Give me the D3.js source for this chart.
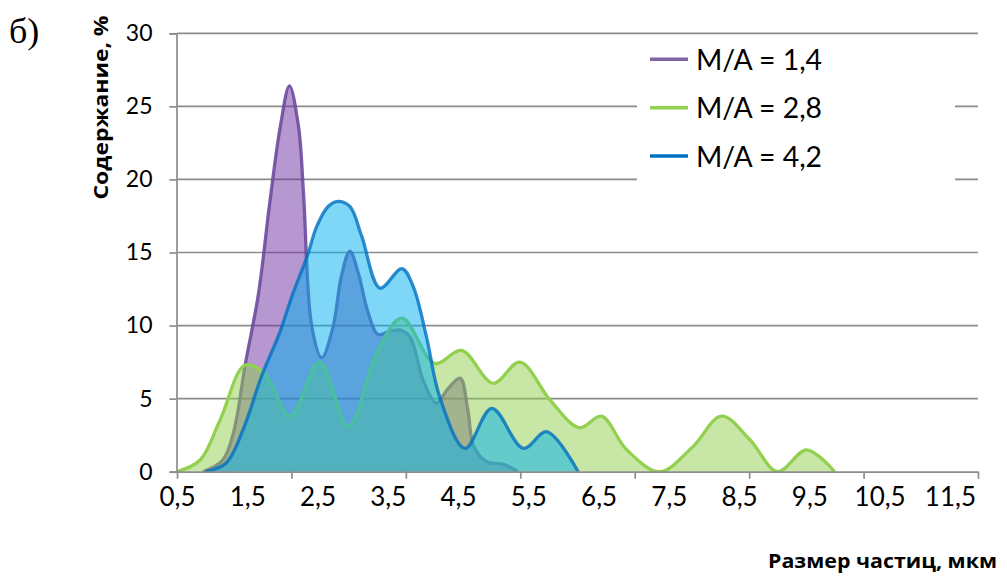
<!DOCTYPE html>
<html>
<head>
<meta charset="utf-8">
<script src="https://cdnjs.cloudflare.com/ajax/libs/d3/7.8.5/d3.min.js"></script>
<style>
  html, body { margin: 0; padding: 0; background: #fff; }
  svg { display: block; }
</style>
</head>
<body>
<svg id="chart" width="1007" height="578"></svg>
<script>
// Particle size distribution, three M/A ratios
const seriesNames = ["M/A = 1,4", "M/A = 2,8", "M/A = 4,2"];

// M/A = 1,4
const sizes14   = [0.87, 1.15, 1.30, 1.47, 1.66, 1.82, 1.97, 2.10, 2.23, 2.30, 2.42, 2.56, 2.72, 2.84, 2.96, 3.08, 3.22, 3.36, 3.52, 3.67, 3.82, 4.00, 4.19, 4.36, 4.53, 4.64, 4.72, 4.90, 5.15, 5.35];
const content14 = [0, 0.8, 2.6, 7.3, 12.2, 18.4, 23.6, 26.4, 23.6, 19.1, 9.9, 7.8, 9.9, 13.4, 15.1, 13.6, 10.9, 9.4, 9.6, 9.7, 9.2, 6.3, 4.7, 5.7, 6.4, 4.2, 1.8, 0.7, 0.5, 0];

// M/A = 2,8
const sizes28   = [0.5, 0.83, 1.11, 1.47, 1.75, 2.11, 2.53, 2.94, 3.34, 3.70, 4.17, 4.55, 5.00, 5.38, 5.81, 6.23, 6.54, 6.90, 7.37, 7.84, 8.25, 8.65, 9.05, 9.46, 9.86];
const content28 = [0, 0.8, 3.5, 7.3, 6.7, 3.8, 7.5, 3.1, 8.1, 10.5, 7.4, 8.3, 6.05, 7.5, 4.9, 3.0, 3.8, 1.5, 0, 1.7, 3.8, 2.2, 0, 1.5, 0];

// M/A = 4,2
const sizes42   = [0.9, 1.2, 1.45, 1.7, 1.96, 2.15, 2.35, 2.49, 2.65, 2.79, 2.96, 3.13, 3.39, 3.70, 3.86, 4.05, 4.24, 4.60, 4.98, 5.43, 5.76, 6.21];
const content42 = [0, 0.6, 3.0, 6.5, 9.5, 12.2, 14.7, 16.8, 18.15, 18.5, 18.15, 16.1, 12.56, 13.9, 12.7, 9.25, 5.1, 1.6, 4.34, 1.6, 2.74, 0];

const xLabelValues = [0.5, 1.5, 2.5, 3.5, 4.5, 5.5, 6.5, 7.5, 8.5, 9.5, 10.5, 11.5];
const yTickValues  = [0, 5, 10, 15, 20, 25, 30];
const xDomain = [0.5, 11.9];
const yDomain = [0, 30];
const xTickMarkIntervals = 7;

const yTitle = "Содержание, %";
const xTitle = "Размер частиц, мкм";
const panelTag = "б)";

const fmt = v => String(v).replace(".", ",");

const svg = d3.select("#chart");
const plot = { left: 177, right: 978, top: 33.3, bottom: 471.7 };

const x = d3.scaleLinear().domain(xDomain).range([plot.left, plot.right]);
const y = d3.scaleLinear().domain(yDomain).range([plot.bottom, plot.top]);

const gridColor = "#8c8c8c";
const font = "Lato, sans-serif";
const titleFont = "'Open Sans', sans-serif";

svg.append("rect").attr("width", 1007).attr("height", 578).attr("fill", "#fff");

// horizontal gridlines
svg.append("g")
  .selectAll("line")
  .data(yTickValues.filter(v => v > 0))
  .join("line")
  .attr("x1", plot.left).attr("x2", plot.right)
  .attr("y1", d => y(d)).attr("y2", d => y(d))
  .attr("stroke", gridColor).attr("stroke-width", 1.7);

// series areas
svg.append("defs").append("clipPath").attr("id", "plotClip")
  .append("rect")
  .attr("x", plot.left).attr("y", 0)
  .attr("width", plot.right - plot.left)
  .attr("height", plot.bottom + 0.5);

const series = [
  { name: seriesNames[0], xs: sizes14, ys: content14, fill: "#7030A0", line: "#6b4c9e", lineOpacity: 0.9, swatch: "#8064A2" },
  { name: seriesNames[1], xs: sizes28, ys: content28, fill: "#92D050", line: "#92D050", lineOpacity: 1.0, swatch: "#92D050" },
  { name: seriesNames[2], xs: sizes42, ys: content42, fill: "#00B0F0", line: "#0070C0", lineOpacity: 0.8, swatch: "#0070C0" }
];

const curve = d3.curveCatmullRom.alpha(0.5);
const area = d3.area().x(d => x(d[0])).y0(y(0)).y1(d => y(d[1])).curve(curve);
const line = d3.line().x(d => x(d[0])).y(d => y(d[1])).curve(curve);

const areasG = svg.append("g").attr("clip-path", "url(#plotClip)");
series.forEach(s => {
  const pts = s.xs.map((v, i) => [v, s.ys[i]]);
  const g = areasG.append("g");
  g.append("path").datum(pts).attr("d", area)
    .attr("fill", s.fill).attr("fill-opacity", 0.5);
  g.append("path").datum(pts).attr("d", line)
    .attr("fill", "none").attr("stroke", s.line)
    .attr("stroke-opacity", s.lineOpacity)
    .attr("stroke-width", 3.3).attr("stroke-linejoin", "round");
});

// y axis
const yAxis = svg.append("g")
  .attr("transform", `translate(${plot.left - 0.5},0)`)
  .call(d3.axisLeft(y).tickValues(yTickValues).tickSize(7).tickPadding(17).tickFormat(fmt));
yAxis.select(".domain").attr("stroke", gridColor).attr("stroke-width", 1.7);
yAxis.selectAll(".tick line").attr("stroke", gridColor).attr("stroke-width", 1.7);
yAxis.selectAll(".tick text")
  .attr("font-family", font).attr("font-size", 23).attr("fill", "#000");

// x axis: line with tick marks
const markValues = d3.range(xTickMarkIntervals + 1).map(i => xDomain[0] + i * (xDomain[1] - xDomain[0]) / xTickMarkIntervals);
const xMarks = svg.append("g")
  .attr("transform", `translate(0,${plot.bottom})`)
  .call(d3.axisBottom(x).tickValues(markValues).tickSize(7).tickSizeOuter(0).tickFormat(""));
xMarks.select(".domain").attr("stroke", gridColor).attr("stroke-width", 1.7);
xMarks.selectAll(".tick line").attr("stroke", gridColor).attr("stroke-width", 1.7);

// x axis labels
const xLabels = svg.append("g")
  .attr("transform", `translate(0,${plot.bottom})`)
  .call(d3.axisBottom(x).tickValues(xLabelValues).tickSize(0).tickPadding(16).tickFormat(fmt));
xLabels.select(".domain").remove();
xLabels.selectAll(".tick text")
  .attr("font-family", font).attr("font-size", 26).attr("fill", "#000");

// legend
const legend = svg.append("g");
legend.append("rect")
  .attr("x", 637).attr("y", 38).attr("width", 318).attr("height", 145)
  .attr("fill", "#fff");
series.forEach((s, i) => {
  const cy = 59.3 + i * 48.4;
  legend.append("line")
    .attr("x1", 650).attr("x2", 688).attr("y1", cy).attr("y2", cy)
    .attr("stroke", s.swatch).attr("stroke-width", 3.5);
  legend.append("text")
    .attr("x", 696).attr("y", cy + 10.5)
    .attr("font-family", font).attr("font-size", 29).attr("fill", "#000")
    .attr("textLength", 126).attr("lengthAdjust", "spacingAndGlyphs")
    .text(s.name);
});

// axis titles
svg.append("text")
  .attr("transform", "translate(108,107.5) rotate(-90)")
  .attr("text-anchor", "middle")
  .attr("font-family", titleFont).attr("font-weight", "bold").attr("font-size", 20)
  .attr("textLength", 184).attr("lengthAdjust", "spacingAndGlyphs")
  .text(yTitle);

svg.append("text")
  .attr("x", 997).attr("y", 567.5)
  .attr("text-anchor", "end")
  .attr("font-family", titleFont).attr("font-weight", "bold").attr("font-size", 20)
  .attr("textLength", 229).attr("lengthAdjust", "spacingAndGlyphs")
  .text(xTitle);

svg.append("text")
  .attr("x", 9).attr("y", 43)
  .attr("font-family", "'Liberation Serif', 'Times New Roman', serif").attr("font-size", 36)
  .text(panelTag);
</script>
</body>
</html>
